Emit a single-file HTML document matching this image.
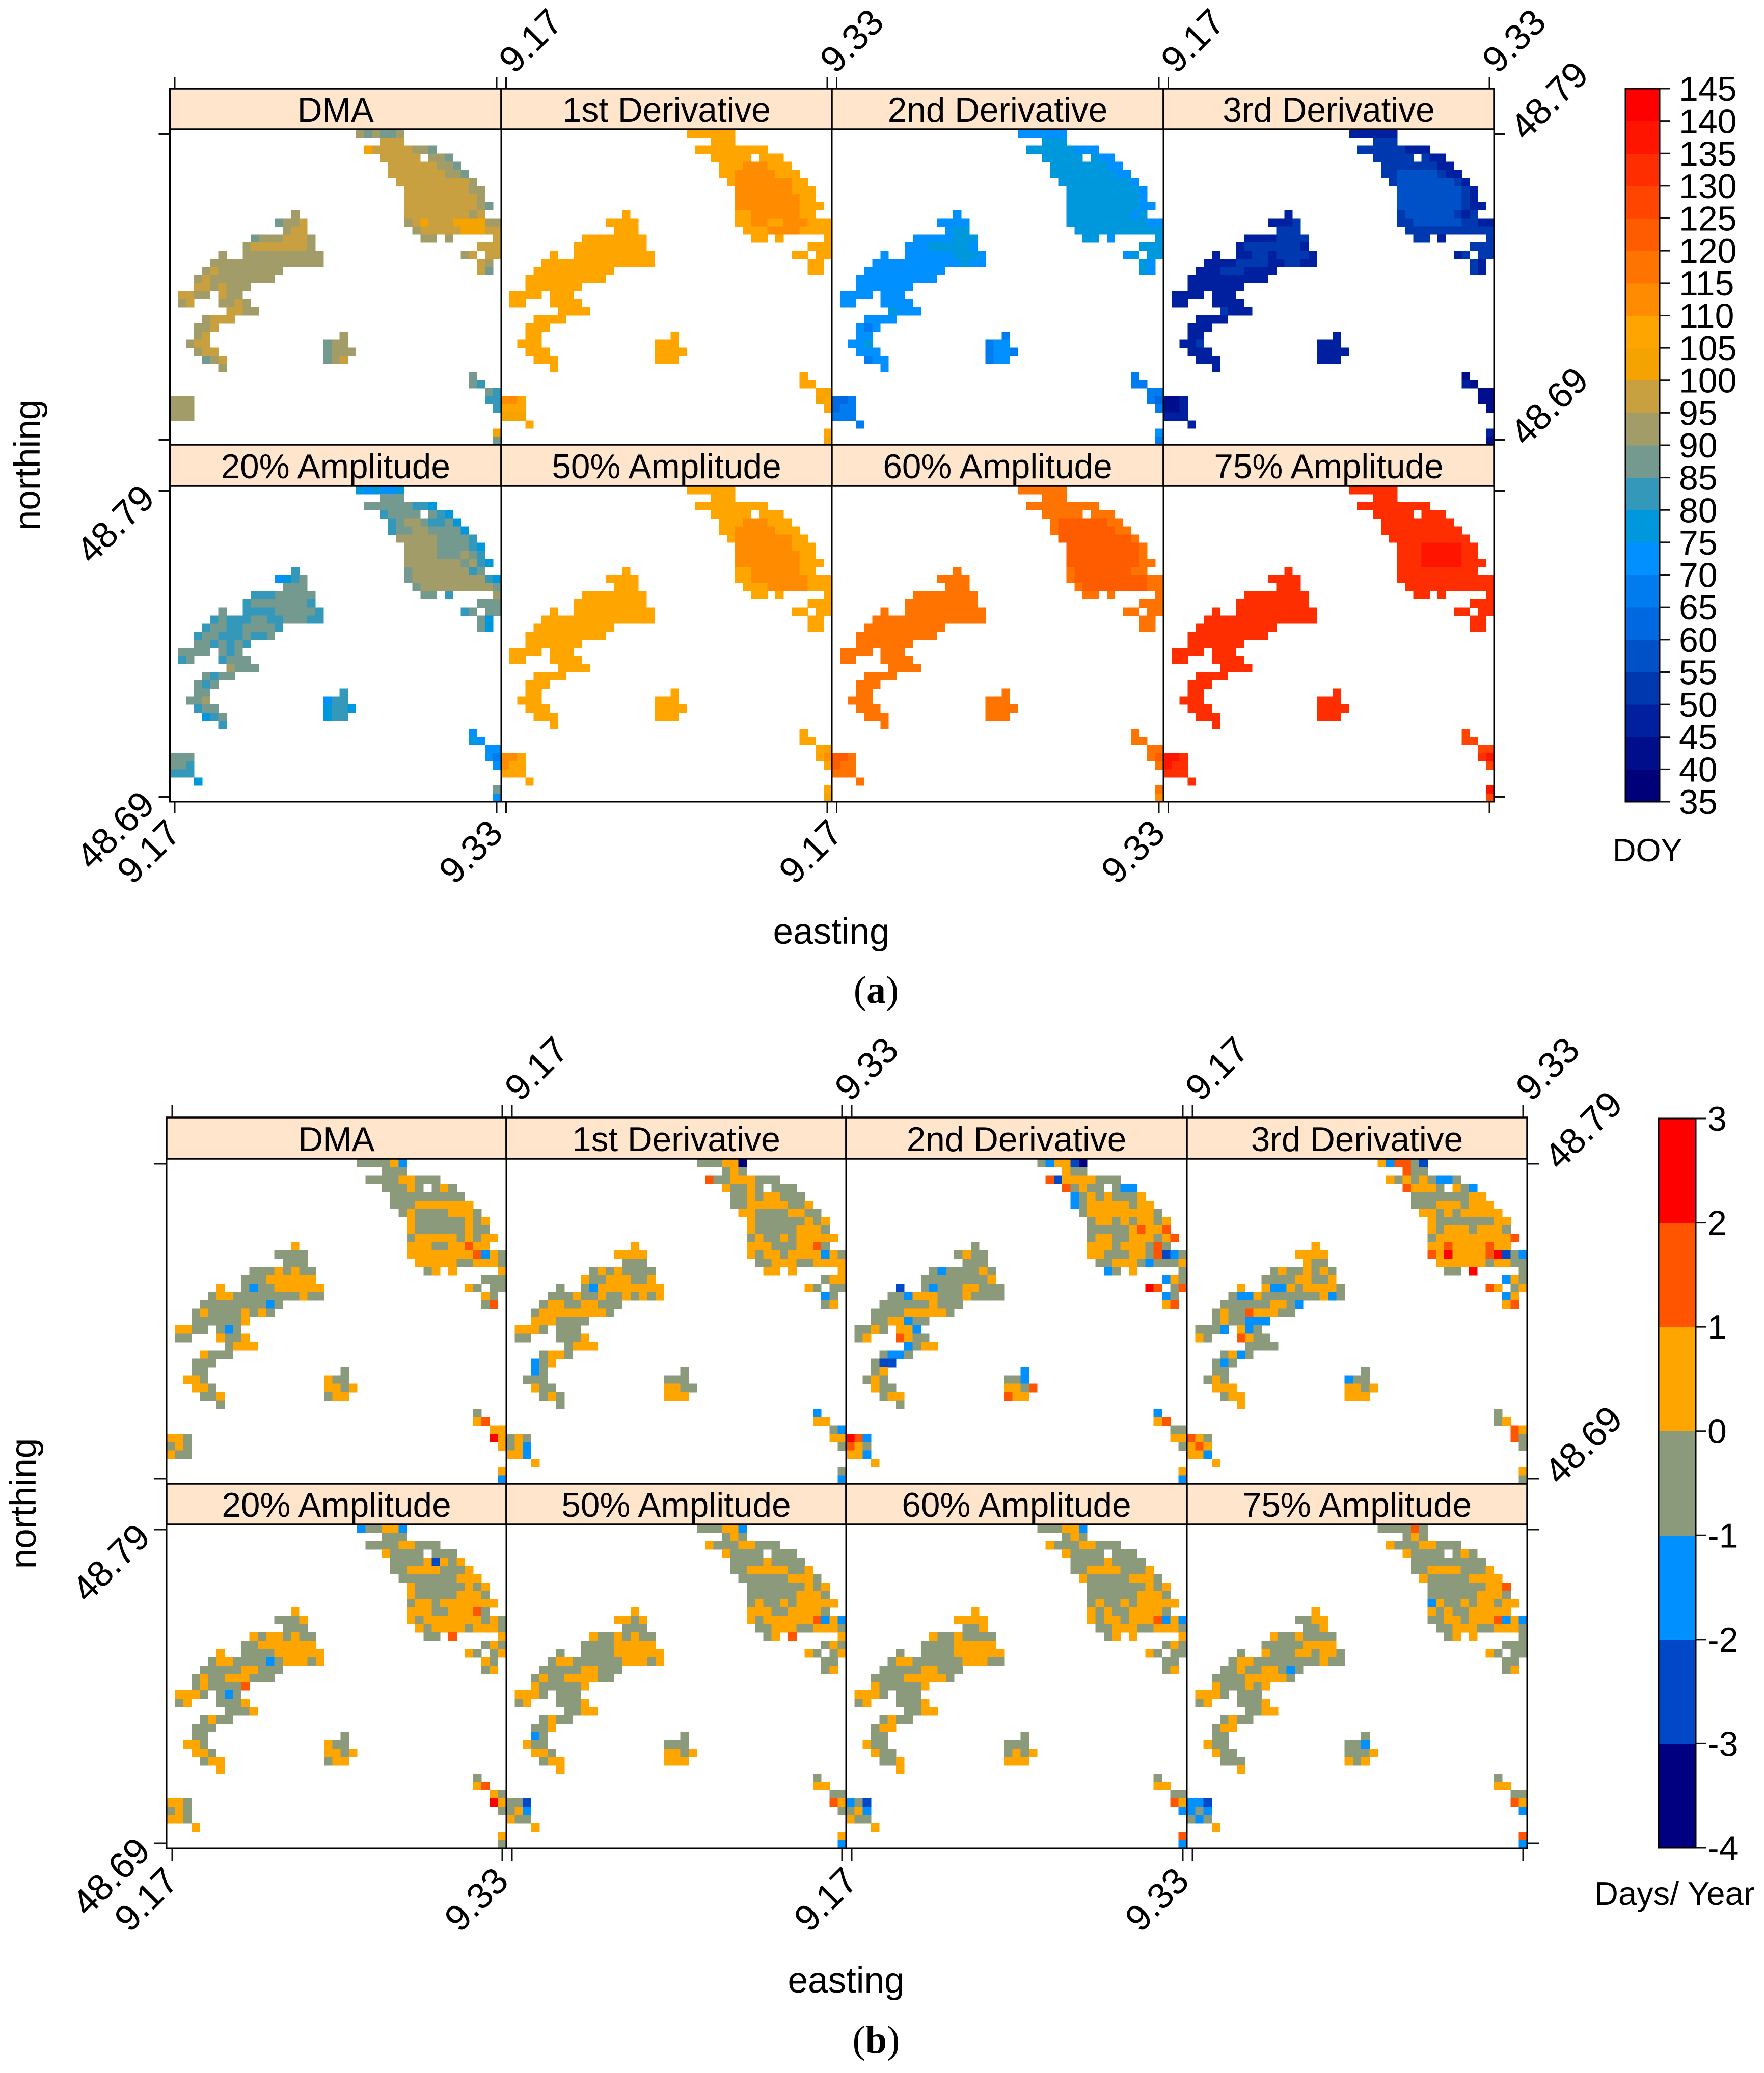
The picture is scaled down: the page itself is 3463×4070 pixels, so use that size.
<!DOCTYPE html>
<html lang="en">
<head>
<meta charset="utf-8">
<title>Phenology metrics maps</title>
<style>
html,body{margin:0;padding:0;background:#fff}
svg{display:block}
text{font-family:"Liberation Sans",sans-serif;fill:#000}
.cap{font-family:"Liberation Serif",serif}
</style>
</head>
<body>
<svg id="chart" xmlns="http://www.w3.org/2000/svg" width="3463" height="4070" viewBox="0 0 3463 4070">
<rect width="3463" height="4070" fill="#fff"/>
<text class="cap" x="1720" y="1969" font-size="76" text-anchor="middle">(<tspan font-weight="bold">a</tspan>)</text>
<text class="cap" x="1720" y="4030" font-size="76" text-anchor="middle">(<tspan font-weight="bold">b</tspan>)</text>
</svg>
<script>
const panelTitles=["DMA","1st Derivative","2nd Derivative","3rd Derivative","20% Amplitude","50% Amplitude","60% Amplitude","75% Amplitude"];
const lonTicks=[9.17,9.33];
const latTicks=[48.79,48.69];
const doyBinColors=["#000078","#000E8C","#0020A0","#0038B0","#0050C8","#0068E0","#007BF0","#0090FF","#0098DC","#3498BB","#749A8F","#A29C68","#C8A040","#F5A300","#FFA500","#FF8C00","#FF7300","#FF5C00","#FF4500","#FF2E00","#FF1400","#FF0000"];
const doyTicks=[35,40,45,50,55,60,65,70,75,80,85,90,95,100,105,110,115,120,125,130,135,140,145];
const dayBinColors=["#000080","#0048C8","#0090FF","#8C9A7C","#FFA500","#FF5500","#FF0000"];
const dayTicks=[-4,-3,-2,-1,0,1,2,3];
/* each entry: [row, firstColumn, value, value, ...] consecutive grid cells; value = lower bound of colour bin */
const doyDma=[[0,23,90,85,90,85,85,90],[1,26,95,95,95],[2,24,100,95,95,95,95,95,90,90,85],[3,26,95,95,95,95,95],[3,32,90,90,85],[4,27,95,95,95,95,95,95,90,90,85],[5,27,95,95,95,95,95,95,95,90,90,85],[6,28,95,95,95,95,95,95,95,95,95,90],[7,29,95,95,95,95,95,95,95,95,90,90],[8,29,95,95,95,95,95,95,95,95,95,90],[9,29,95,95,95,95,95,95,95,95,95,90,85],[10,15,90],[10,29,95,95,95,95,95,95,95,95,90,95],[11,13,85,90,90,95],[11,29,90,95,100,95,95,95,100,100,100,100,90,90],[12,14,90,95,95],[12,30,90,95,95,95,95,95,100,100,100,95,95],[13,10,85,90,90,90,95,95,95,90],[13,31,90,90],[13,34,90],[13,40,95],[14,9,90,95,95,95,95,95,95,95,90],[14,38,95,95,95],[15,6,90],[15,9,90,90,90,90,90,90,90,90,90,90],[15,36,90,95],[15,39,95,95],[16,5,90,90,90,90,90,90,90,90,90,90,90,90,90,90],[16,38,95,90],[17,4,90,95,90,90,90,90,90,90,90,90],[17,38,95,85],[18,3,90,95,90,90,90,90,90,90,90,90],[19,3,95,95,90,95,90,90,90],[20,1,95,95,90,90],[20,6,95,90,90],[21,1,90,95],[21,6,90,90,95,90],[22,7,95,95,90,90],[23,4,90,95,95,95],[24,3,90,90,95],[25,3,90,95],[25,21,90],[26,2,90,95,95],[26,19,85,90,90],[27,3,90,95,95],[27,19,85,90,90,90],[28,4,85,90,95],[28,19,85,90,95],[29,6,90],[30,37,85],[31,37,85,80],[32,39,85,80],[33,0,90,90,90],[33,39,80,80],[34,0,90,90,90],[34,40,80],[35,0,90,90,90],[37,40,100],[38,40,85]];
const doyFirst=[[0,23,105,105,105,105,105,105],[1,26,105,105,105],[2,24,105,105,105,105,105,105,105,105,105],[3,26,105,105,105,105,105],[3,32,105,105,105],[4,27,105,105,105,110,110,110,105,105,105],[5,27,105,105,110,110,110,110,110,105,105,105],[6,28,105,110,110,110,110,110,110,110,105,105],[7,29,110,110,110,110,110,110,110,105,105,105],[8,29,110,110,110,110,110,110,110,110,105,105],[9,29,110,110,110,110,110,110,110,110,105,105,105],[10,15,105],[10,29,105,105,110,110,110,110,110,110,105,105],[11,13,105,105,105,105],[11,29,105,105,110,110,105,105,110,110,110,105,105,105],[12,14,105,105,105],[12,30,105,105,105,110,110,110,110,105,105,105,105],[13,10,105,105,105,105,105,105,105,105],[13,31,105,105],[13,34,105],[13,40,105],[14,9,105,105,105,105,105,105,105,105,105],[14,38,105,105,105],[15,6,105],[15,9,105,105,105,105,105,105,105,105,105,105],[15,36,105,105],[15,39,105,105],[16,5,105,105,105,105,105,105,105,105,105,105,105,105,105,105],[16,38,105,105],[17,4,105,105,105,105,105,105,105,105,105,105],[17,38,105,105],[18,3,105,105,105,105,105,105,105,105,105,105],[19,3,105,105,105,105,105,105,105],[20,1,105,105,105,105],[20,6,105,105,105],[21,1,105,105],[21,6,105,105,105,105],[22,7,105,105,105,105],[23,4,105,105,105,105],[24,3,105,105,105],[25,3,105,105],[25,21,105],[26,2,105,105,105],[26,19,105,105,105],[27,3,105,105,105],[27,19,105,105,105,105],[28,4,105,105,105],[28,19,105,105,105],[29,6,105],[30,37,105],[31,37,105,105],[32,39,105,100],[33,0,110,110,105],[33,39,100,105],[34,0,105,105,105],[34,40,105],[35,0,100,100,100],[36,3,105],[37,40,105],[38,40,100]];
const doySecond=[[0,23,70,70,70,70,70,70],[1,26,75,75,75],[2,24,75,75,75,75,75,75,70,70,70],[3,26,75,75,75,75,75],[3,32,75,70,70],[4,27,75,75,75,75,75,75,75,70,70],[5,27,75,75,75,75,75,75,75,75,70,70],[6,28,75,75,75,75,75,75,75,75,75,70],[7,29,75,75,75,75,75,75,75,75,75,70],[8,29,75,75,75,75,75,75,75,75,75,70],[9,29,75,75,75,75,75,75,75,75,75,70,70],[10,15,70],[10,29,75,75,75,75,75,75,75,75,70,75],[11,13,70,70,70,70],[11,29,75,75,75,75,75,75,75,75,75,75,70,70],[12,14,70,75,75],[12,30,75,75,75,75,75,75,75,75,75,75,75],[13,10,70,70,70,70,70,75,75,75],[13,31,75,75],[13,34,70],[13,40,75],[14,9,70,70,70,75,75,75,75,75,70],[14,38,75,75,75],[15,6,70],[15,9,70,70,70,70,70,70,75,75,75,70],[15,36,70,75],[15,39,75,75],[16,5,70,70,70,70,70,70,70,70,70,70,70,75,70,70],[16,38,75,70],[17,4,70,70,70,70,70,70,70,70,70,70],[17,38,75,70],[18,3,70,70,70,70,70,70,70,70,70,70],[19,3,70,70,70,70,70,70,70],[20,1,70,70,70,70],[20,6,70,70,70],[21,1,70,70],[21,6,70,70,70,70],[22,7,75,70,70,70],[23,4,70,70,70,70],[24,3,70,65,70],[25,3,70,70],[25,21,65],[26,2,70,70,75],[26,19,65,70,70],[27,3,70,70,70],[27,19,65,70,70,65],[28,4,65,70,70],[28,19,65,70,70],[29,6,70],[30,37,65],[31,37,65,65],[32,39,65,65],[33,0,60,60,65],[33,39,65,60],[34,0,60,65,65],[34,40,65],[35,0,65,65,65],[36,3,65],[37,40,70],[38,40,65]];
const doyThird=[[0,23,45,45,45,45,45,45],[1,26,50,50,50],[2,24,50,50,50,50,50,50,45,45,45],[3,26,50,50,50,50,50],[3,32,50,45,45],[4,27,50,50,50,50,50,50,50,45,45],[5,27,50,50,55,55,55,55,55,50,45,45],[6,28,50,55,55,55,55,55,55,55,50,45],[7,29,55,55,55,55,55,55,55,55,50,45],[8,29,55,55,55,55,55,55,55,55,50,45],[9,29,55,55,55,55,55,55,55,55,50,45,45],[10,15,45],[10,29,50,55,55,55,55,55,55,50,45,50],[11,13,45,45,45,50],[11,29,50,50,55,55,55,55,55,55,50,50,45,45],[12,14,50,50,50],[12,30,50,50,50,50,50,50,50,50,50,50,50],[13,10,45,45,45,45,50,50,50,50],[13,31,50,50],[13,34,45],[13,40,50],[14,9,45,50,50,50,50,50,50,50,45],[14,38,50,50,50],[15,6,45],[15,9,45,45,50,50,45,50,50,50,50,45],[15,36,45,50],[15,39,50,50],[16,5,45,45,45,45,50,50,50,50,45,45,50,50,45,45],[16,38,50,45],[17,4,45,45,45,50,50,50,45,45,45,45],[17,38,50,45],[18,3,45,45,45,45,45,45,45,45,45,45],[19,3,45,45,45,45,45,45,45],[20,1,45,45,45,45],[20,6,45,45,45],[21,1,45,45],[21,6,45,45,45,45],[22,7,50,45,45,45],[23,4,45,45,45,45],[24,3,45,45,45],[25,3,45,45],[25,21,45],[26,2,45,45,50],[26,19,45,45,45],[27,3,45,45,45],[27,19,45,45,45,45],[28,4,45,45,45],[28,19,45,45,45],[29,6,45],[30,37,40],[31,37,45,40],[32,39,40,40],[33,0,40,40,45],[33,39,40,40],[34,0,40,40,45],[34,40,40],[35,0,45,45,45],[36,3,45],[37,40,45],[38,40,40]];
const doyTwenty=[[0,23,75,70,75,70,70,75],[1,26,85,85,85],[2,24,85,85,85,85,85,85,80,80,75],[3,26,80,85,85,85,85],[3,32,85,80,75],[4,27,80,85,90,90,85,80,80,85,75],[5,27,80,85,85,90,90,85,85,85,85,75],[6,28,90,90,90,90,90,85,85,85,85,80],[7,29,90,90,90,90,85,85,85,85,80,75],[8,29,90,90,90,90,85,85,85,90,85,80],[9,29,90,90,90,90,90,90,90,85,90,80,75],[10,15,80],[10,29,85,90,90,90,90,90,90,90,80,85],[11,13,70,75,80,85],[11,29,85,90,90,90,90,90,90,90,90,90,80,75],[12,14,85,85,85],[12,30,85,90,90,90,90,90,90,90,90,90,85],[13,10,80,80,80,85,85,85,85,85],[13,31,85,85],[13,34,80],[13,40,90],[14,9,80,85,85,85,85,85,85,85,80],[14,38,85,85,85],[15,6,85],[15,9,80,80,80,80,85,85,85,85,85,80],[15,36,80,85],[15,39,85,85],[16,5,80,85,80,80,80,85,85,80,80,85,85,85,80,80],[16,38,85,75],[17,4,80,85,85,80,80,85,85,85,85,80],[17,38,85,75],[18,3,80,85,85,80,80,80,85,80,80,85],[19,3,85,85,80,85,80,85,80],[20,1,85,85,85,85],[20,6,85,80,85],[21,1,80,85],[21,6,80,85,85,85],[22,7,90,85,85,85],[23,4,85,80,85,85],[24,3,85,80,85],[25,3,85,85],[25,21,80],[26,2,85,85,90],[26,19,70,80,80],[27,3,80,85,85],[27,19,75,80,80,75],[28,4,75,80,85],[28,19,75,80,80],[29,6,80],[30,37,70],[31,37,75,70],[32,39,70,70],[33,0,85,85,85],[33,39,70,65],[34,0,85,85,80],[34,40,70],[35,0,80,80,80],[36,3,75],[37,40,85],[38,40,70]];
const doyFifty=[[0,23,105,105,105,105,105,105],[1,26,105,105,105],[2,24,105,105,105,105,105,105,105,105,105],[3,26,105,105,105,105,105],[3,32,105,105,105],[4,27,105,105,105,110,110,110,105,105,105],[5,27,105,105,110,110,110,110,110,105,105,105],[6,28,105,110,110,110,110,110,110,110,105,105],[7,29,110,110,110,110,110,110,110,105,105,105],[8,29,110,110,110,110,110,110,110,110,105,105],[9,29,110,110,110,110,110,110,110,110,105,105,105],[10,15,105],[10,29,105,105,110,110,110,110,110,110,105,105],[11,13,105,105,105,105],[11,29,105,105,110,110,110,110,110,110,110,105,105,105],[12,14,105,105,105],[12,30,105,105,105,110,110,110,110,110,105,105,105],[13,10,105,105,105,105,105,105,105,105],[13,31,105,105],[13,34,105],[13,40,105],[14,9,105,105,105,105,105,105,105,105,105],[14,38,105,105,105],[15,6,105],[15,9,105,105,105,105,105,105,105,105,105,105],[15,36,105,105],[15,39,105,105],[16,5,105,105,105,105,105,105,105,105,105,105,105,105,105,105],[16,38,105,105],[17,4,105,105,105,105,105,105,105,105,105,105],[17,38,105,105],[18,3,105,105,105,105,105,105,105,105,105,105],[19,3,105,105,105,105,105,105,105],[20,1,105,105,105,105],[20,6,105,105,105],[21,1,105,105],[21,6,105,105,105,105],[22,7,105,105,105,105],[23,4,105,105,105,105],[24,3,105,105,105],[25,3,105,105],[25,21,105],[26,2,105,105,105],[26,19,105,105,105],[27,3,105,105,105],[27,19,105,105,105,105],[28,4,105,105,105],[28,19,105,105,105],[29,6,105],[30,37,105],[31,37,105,105],[32,39,105,100],[33,0,110,110,105],[33,39,105,110],[34,0,110,105,105],[34,40,105],[35,0,105,105,105],[36,3,105],[37,40,105],[38,40,100]];
const doySixty=[[0,23,115,115,115,115,115,115],[1,26,115,115,115],[2,24,115,115,115,115,115,115,115,115,115],[3,26,115,115,115,115,115],[3,32,115,115,115],[4,27,115,120,120,120,120,120,120,115,115],[5,27,115,120,120,120,120,120,120,120,115,115],[6,28,120,120,120,120,120,120,120,120,120,115],[7,29,120,120,120,120,120,120,120,120,120,115],[8,29,120,120,120,120,120,120,120,120,120,115],[9,29,120,120,120,120,120,120,120,120,120,115,115],[10,15,115],[10,29,115,120,120,120,120,120,120,120,115,115],[11,13,115,115,115,115],[11,29,115,120,120,120,120,120,120,120,120,120,115,115],[12,14,115,115,115],[12,30,115,120,120,120,120,120,120,120,120,115,115],[13,10,115,115,115,115,115,115,115,115],[13,31,115,115],[13,34,115],[13,40,115],[14,9,115,115,115,115,115,115,115,115,115],[14,38,115,115,115],[15,6,115],[15,9,115,115,115,115,115,115,115,115,115,115],[15,36,115,115],[15,39,115,115],[16,5,115,115,115,115,115,115,115,115,115,115,115,115,115,115],[16,38,115,115],[17,4,115,115,115,115,115,115,115,115,115,115],[17,38,115,115],[18,3,115,115,115,115,115,115,115,115,115,115],[19,3,115,115,115,115,115,115,115],[20,1,115,115,115,115],[20,6,115,115,115],[21,1,115,115],[21,6,115,115,115,115],[22,7,115,115,115,115],[23,4,115,115,115,115],[24,3,115,115,115],[25,3,115,115],[25,21,115],[26,2,115,115,115],[26,19,115,115,115],[27,3,115,115,115],[27,19,115,115,115,115],[28,4,115,115,115],[28,19,115,115,115],[29,6,115],[30,37,115],[31,37,115,115],[32,39,115,115],[33,0,120,120,115],[33,39,115,120],[34,0,120,115,115],[34,40,115],[35,0,115,115,115],[36,3,115],[37,40,115],[38,40,110]];
const doySeventyFive=[[0,23,130,130,130,130,130,130],[1,26,130,130,130],[2,24,130,130,130,130,130,130,130,130,130],[3,26,130,130,130,130,130],[3,32,130,130,130],[4,27,130,130,130,130,130,130,130,130,130],[5,27,130,130,130,130,130,130,130,130,130,130],[6,28,130,130,130,130,130,130,130,130,130,130],[7,29,130,130,130,135,135,135,135,135,130,130],[8,29,130,130,130,135,135,135,135,135,130,130],[9,29,130,130,130,135,135,135,135,135,130,130,130],[10,15,130],[10,29,130,130,130,130,130,130,130,130,130,130],[11,13,130,130,130,130],[11,29,130,130,130,130,130,130,130,130,130,130,130,130],[12,14,130,130,130],[12,30,130,130,130,130,130,130,130,130,130,130,130],[13,10,130,130,130,130,130,130,130,130],[13,31,130,130],[13,34,130],[13,40,130],[14,9,130,130,130,130,130,130,130,130,130],[14,38,130,130,130],[15,6,130],[15,9,130,130,130,130,130,130,130,130,130,130],[15,36,130,130],[15,39,130,130],[16,5,130,130,130,130,130,130,130,130,130,130,130,130,130,130],[16,38,130,130],[17,4,130,130,130,130,130,130,130,130,130,130],[17,38,130,130],[18,3,130,130,130,130,130,130,130,130,130,130],[19,3,130,130,130,130,130,130,130],[20,1,130,130,130,130],[20,6,130,130,130],[21,1,130,130],[21,6,130,130,130,130],[22,7,130,130,130,130],[23,4,130,130,130,130],[24,3,130,130,130],[25,3,130,130],[25,21,130],[26,2,130,130,130],[26,19,130,130,130],[27,3,130,130,130],[27,19,130,130,130,130],[28,4,130,130,130],[28,19,130,130,130],[29,6,130],[30,37,125],[31,37,125,125],[32,39,125,125],[33,0,135,135,130],[33,39,130,135],[34,0,135,130,130],[34,40,125],[35,0,130,130,130],[36,3,130],[37,40,135],[38,40,125]];
const dayDma=[[0,23,-1,-1,-1,-1,0,-2],[1,26,-1,-1,-1],[2,24,-1,-1,-1,-1,0,0,-1,-1,-1],[3,26,-1,-1,-1,0,-1],[3,32,-1,0,-1],[4,27,-1,-1,-1,-1,-1,-1,-1,-1,-1],[5,27,-1,-1,-1,0,0,0,0,0,0,0],[6,28,-1,0,-1,-1,-1,-1,0,0,0,-1],[7,29,0,-1,-1,-1,-1,-1,-1,0,-1,0],[8,29,0,-1,-1,-1,-1,-1,-1,0,-1,-1],[9,29,-1,0,0,0,0,0,-1,0,-1,0,0],[10,15,0],[10,29,0,0,0,-1,-1,0,0,1,0,0],[11,13,-1,-1,-1,-1],[11,29,0,0,0,0,0,0,0,0,1,-2,0,-1],[12,14,-1,-1,-1],[12,30,0,0,0,0,0,-1,-1,0,0,0,-1],[13,10,-1,-1,-1,0,-1,0,-1,-1],[13,31,-1,0],[13,34,0],[13,40,0],[14,9,-1,-1,-1,0,0,0,0,0,0],[14,38,-1,-1,-1],[15,6,0],[15,9,-1,-2,-1,-1,0,0,0,0,0,0],[15,36,0,-1],[15,39,-1,-1],[16,5,-1,0,0,-1,-1,-1,-1,-1,-1,-1,-1,0,-1,-1],[16,38,0,-1],[17,4,-1,-1,-1,-1,-1,-1,-1,-1,-2,-1],[17,38,-1,1],[18,3,-1,0,-1,-1,-1,-1,0,-1,0,-1],[19,3,-1,-1,-1,-1,-1,-1,0],[20,1,0,0,-1,-1],[20,6,-1,-2,-1],[21,1,-1,-1],[21,6,0,-1,-1,0],[22,7,-1,0,0,0],[23,4,0,-1,-1,-1],[24,3,-1,-1,-1],[25,3,-1,-1],[25,21,-1],[26,2,0,0,-1],[26,19,0,-1,-1],[27,3,0,0,-1],[27,19,0,0,-1,0],[28,4,-1,-1,0],[28,19,-1,0,0],[29,6,-1],[30,37,-1],[31,37,0,1],[32,39,0,0],[33,0,0,0,-1],[33,39,2,0],[34,0,-1,0,-1],[34,40,0],[35,0,0,-1,-1],[37,40,0],[38,40,-2]];
const dayFirst=[[0,23,-1,-1,-1,0,0,-4],[1,26,-1,0,-1],[2,24,1,-1,-1,0,0,0,-1,-1,-1],[3,26,0,-1,-1,0,-1],[3,32,-1,-1,-1],[4,27,-1,-1,0,-1,0,0,-1,-1,-1],[5,27,-1,-1,0,0,0,0,0,-1,-1,0],[6,28,0,0,-1,-1,-1,-1,0,0,-1,-1],[7,29,0,-1,-1,-1,-1,-1,-1,0,-1,0],[8,29,0,-1,-1,-1,-1,-1,0,0,0,-1],[9,29,-1,0,-1,-1,0,-1,0,0,0,0,0],[10,15,0],[10,29,0,0,0,-1,-1,-1,0,0,1,-1],[11,13,0,0,0,0],[11,29,0,-1,0,0,-1,0,0,0,0,-2,0,-1],[12,14,-1,-1,-1],[12,30,-1,-1,0,0,0,-1,-1,0,0,0,0],[13,10,-1,0,-1,0,-1,-1,-1,-1],[13,31,0,0],[13,34,0],[13,40,0],[14,9,0,-1,-1,0,0,0,-1,-1,0],[14,38,-1,0,0],[15,6,-1],[15,9,-1,-2,0,0,0,0,0,0,0,0],[15,36,0,-1],[15,39,-1,-1],[16,5,-1,-1,-1,0,-1,-1,0,-1,-1,0,-1,0,-1,0],[16,38,-2,-1],[17,4,-1,0,0,-1,-1,0,0,-1,-1,-1],[17,38,-1,0],[18,3,-1,0,0,0,0,0,0,0,0,-1],[19,3,0,0,0,-1,-1,-1,-1],[20,1,0,0,0,-1],[20,6,-1,-1,-1],[21,1,-1,-1],[21,6,-1,-1,-1,0],[22,7,-1,0,0,0],[23,4,-1,0,0,-1],[24,3,-2,-1,0],[25,3,-2,-1],[25,21,-1],[26,2,-1,-1,-1],[26,19,-1,-1,-1],[27,3,0,-1,-1],[27,19,0,0,-1,-1],[28,4,-1,0,-1],[28,19,0,0,0],[29,6,-1],[30,37,-2],[31,37,0,0],[32,39,-1,-2],[33,0,-1,0,-1],[33,39,0,0],[34,0,-1,0,-2],[34,40,-1],[35,0,0,0,-2],[36,3,0],[37,40,-1],[38,40,-2]];
const daySecond=[[0,23,-1,-2,0,0,-3,-4],[1,26,0,-1,-1],[2,24,1,-3,0,0,0,0,-1,-1,-1],[3,26,1,-1,0,-1,-1],[3,32,-1,-2,-2],[4,27,-2,-1,0,-1,0,-1,-1,-1,0],[5,27,-2,-1,0,0,0,0,0,-1,0,0],[6,28,-1,0,0,0,0,0,0,0,0,-1],[7,29,-1,0,0,-1,0,-1,0,0,-1,0],[8,29,-1,-1,-1,-1,-1,0,1,0,0,1],[9,29,-1,0,0,-1,-1,0,0,0,-1,0,1],[10,15,-1],[10,29,0,0,0,-1,0,0,0,-1,1,-1],[11,13,-1,0,-1,-1],[11,29,0,0,-1,-1,-1,0,0,-1,1,-3,-2,-1],[12,14,-1,-1,-1],[12,30,-1,-1,0,0,0,-1,-2,-1,-1,-1,0],[13,10,-1,-2,-1,-1,-1,-1,0,-1],[13,31,-2,-1],[13,34,0],[13,40,-1],[14,9,-1,-1,-1,-1,-1,-1,-1,-1,0],[14,38,-2,0,-1],[15,6,-3],[15,9,-1,-2,-1,-1,-1,0,0,-1,-1,-1],[15,36,2,1],[15,39,-1,1],[16,5,-1,-1,-2,0,0,0,-1,-1,-1,0,-1,-1,-1,-1],[16,38,-2,-1],[17,4,-1,-1,-1,-1,-1,-1,0,-1,-1,-1],[17,38,0,1],[18,3,-1,-1,-1,-1,0,0,0,0,0,-1],[19,3,-1,-1,0,0,-2,-1,-1],[20,1,-1,-1,0,-1],[20,6,0,0,-2],[21,1,-1,0],[21,6,1,0,-1,-1],[22,7,-2,-1,0,0],[23,4,-1,-2,-2,-1],[24,3,-1,-3,-3],[25,3,-1,0],[25,21,-2],[26,2,-1,0,-1],[26,19,-1,-1,-2],[27,3,0,-1,-1],[27,19,0,0,-1,1],[28,4,-1,0,0],[28,19,1,0,0],[29,6,-1],[30,37,-2],[31,37,0,1],[32,39,-1,-1],[33,0,2,1,-2],[33,39,0,0],[34,0,1,0,-1],[34,40,-1],[35,0,0,0,-2],[36,3,0],[37,40,0],[38,40,-2]];
const dayThird=[[0,23,0,-2,1,1,-1,-3],[1,26,1,-1,-1],[2,24,0,-1,0,-1,0,-1,-2,-2,-1],[3,26,1,0,0,0,-1],[3,32,0,-1,-2],[4,27,-1,-1,-1,-1,-1,-1,-1,0,0],[5,27,-1,-1,-1,0,0,0,-1,0,0,0],[6,28,0,0,-1,0,-1,0,0,0,0,0],[7,29,0,-1,-1,-1,-1,-1,-1,-1,0,0],[8,29,0,-1,0,0,0,-1,0,0,0,-1],[9,29,-1,0,0,0,0,0,0,0,0,0,1],[10,15,0],[10,29,0,0,1,0,0,0,0,1,0,0],[11,13,0,0,0,0],[11,29,1,0,2,0,0,0,0,1,2,-3,-1,-2],[12,14,0,-1,-1],[12,30,0,0,0,0,0,0,-1,0,0,-1,-1],[13,10,-1,0,-1,-1,0,-1,0,-1],[13,31,-1,-1],[13,34,2],[13,40,-1],[14,9,-1,-1,-1,-1,0,0,-1,-1,0],[14,38,-2,0,-1],[15,6,0],[15,9,0,-2,-2,0,-1,0,0,0,0,-1],[15,36,1,0],[15,39,-1,0],[16,5,-1,-2,-2,0,-1,-1,-1,-1,-1,-1,-1,0,-2,-1],[16,38,-2,0],[17,4,-1,-1,-1,-1,-1,-1,0,0,-1,-2],[17,38,0,1],[18,3,-1,0,-1,-1,1,0,0,0,-1,-1],[19,3,-1,0,-1,-1,-2,-2,-2],[20,1,-1,-1,-1,-2],[20,6,0,-2,-1],[21,1,0,-1],[21,6,1,0,-1,-1],[22,7,-1,-1,-1,-1],[23,4,-1,0,-2,-1],[24,3,-1,-2,-1],[25,3,-1,-1],[25,21,-1],[26,2,-1,0,-1],[26,19,-2,-1,-1],[27,3,0,0,0],[27,19,0,0,-1,0],[28,4,-1,0,0],[28,19,0,0,0],[29,6,0],[30,37,-1],[31,37,-1,0],[32,39,1,0],[33,0,1,0,-1],[33,39,1,-1],[34,0,0,1,0],[34,40,-1],[35,0,0,0,-2],[36,3,0],[37,40,0],[38,40,-1]];
const dayTwenty=[[0,23,-2,-1,-1,0,0,-2],[1,26,-1,-1,-1],[2,24,-1,-1,-1,-1,0,0,-1,-1,-1],[3,26,0,-1,-1,-1,-1],[3,32,-1,-1,-1],[4,27,-1,-1,-1,-1,0,-3,0,-1,0],[5,27,-1,-1,0,0,0,0,-1,-1,-1,0],[6,28,-1,-1,-1,-1,-1,-1,-1,0,0,0],[7,29,0,-1,-1,-1,-1,-1,-1,0,-1,0],[8,29,0,-1,-1,-1,-1,-1,0,0,0,-1],[9,29,-1,0,0,-1,0,0,0,0,0,0,0],[10,15,0],[10,29,0,0,0,-1,-1,0,0,0,1,-1],[11,13,-1,-1,-1,0],[11,29,0,-1,0,0,0,0,0,0,0,-1,0,-1],[12,14,-1,-1,-1],[12,30,0,-1,0,0,0,0,-1,0,0,0,-1],[13,10,0,-1,0,0,-1,0,-1,-1],[13,31,-1,-1],[13,34,1],[13,40,0],[14,9,-1,-1,0,0,0,0,0,0,0],[14,38,-1,0,-1],[15,6,0],[15,9,-1,-1,-1,-1,0,0,0,0,0,0],[15,36,0,-1],[15,39,-1,0],[16,5,-1,0,0,-1,-1,-1,-1,-2,-1,0,0,0,-1,0],[16,38,0,-1],[17,4,-1,-1,-1,-1,-1,0,0,-1,-1,-1],[17,38,-1,0],[18,3,-1,0,-1,-1,0,0,0,-1,-1,-1],[19,3,-1,0,-1,-1,-1,-1,1],[20,1,0,0,0,-1],[20,6,-1,-2,-1],[21,1,-1,0],[21,6,-1,-1,-1,0],[22,7,-1,-1,-1,0],[23,4,-1,0,-1,-1],[24,3,-1,-1,-1],[25,3,-1,-1],[25,21,-1],[26,2,0,0,-1],[26,19,0,-1,-1],[27,3,0,0,-1],[27,19,0,0,-1,0],[28,4,-1,0,0],[28,19,-1,0,0],[29,6,0],[30,37,-1],[31,37,0,1],[32,39,0,-1],[33,0,0,0,-1],[33,39,2,0],[34,0,-1,0,-1],[34,40,-1],[35,0,0,0,-1],[36,3,0],[37,40,0],[38,40,-1]];
const dayFifty=[[0,23,-1,-1,-1,0,0,-2],[1,26,-1,0,-1],[2,24,0,-1,-1,-1,0,0,-1,-1,-1],[3,26,0,-1,-1,-1,-1],[3,32,-1,-1,-1],[4,27,-1,-1,-1,-1,0,-1,-1,-1,-1],[5,27,-1,-1,0,0,0,0,0,-1,-1,0],[6,28,-1,-1,-1,-1,-1,-1,0,0,0,-1],[7,29,-1,-1,-1,-1,-1,-1,-1,0,-1,0],[8,29,-1,-1,-1,-1,-1,-1,0,0,0,-1],[9,29,-1,0,-1,-1,0,-1,0,0,0,0,0],[10,15,0],[10,29,0,0,0,-1,-1,0,0,0,0,-1],[11,13,0,0,-1,0],[11,29,0,-1,0,0,0,0,0,0,1,-2,0,-2],[12,14,-1,-1,-1],[12,30,-1,-1,0,0,0,-1,-1,0,0,0,-1],[13,10,0,-1,-1,0,-1,0,-1,-1],[13,31,-1,0],[13,34,1],[13,40,0],[14,9,-1,-1,-1,-1,0,0,0,0,0],[14,38,-1,0,-1],[15,6,-1],[15,9,-1,-1,-1,-1,0,0,0,0,0,0],[15,36,0,-1],[15,39,-1,0],[16,5,-1,0,0,-1,-1,-1,-1,-1,-1,0,0,0,-1,0],[16,38,-1,-1],[17,4,-1,-1,-1,-1,-1,0,0,-1,-1,-1],[17,38,-1,0],[18,3,-1,0,-1,-1,0,0,0,0,-1,-1],[19,3,0,-1,-1,-1,-1,-1,0],[20,1,0,0,0,-1],[20,6,-1,-1,-1],[21,1,-1,0],[21,6,-1,-1,-1,0],[22,7,-1,-1,0,0],[23,4,-1,0,-1,-1],[24,3,-1,-1,0],[25,3,-2,-1],[25,21,-1],[26,2,0,-1,-1],[26,19,-1,-1,-1],[27,3,0,0,-1],[27,19,0,0,-1,0],[28,4,-1,0,0],[28,19,0,0,0],[29,6,0],[30,37,-1],[31,37,0,0],[32,39,-1,-1],[33,0,-1,-1,-3],[33,39,1,0],[34,0,-1,0,-2],[34,40,-1],[35,0,0,-1,-1],[36,3,0],[37,40,0],[38,40,-2]];
const daySixty=[[0,23,-1,-1,-1,0,0,-2],[1,26,-1,0,-1],[2,24,0,-1,-1,-1,0,0,-1,-1,-1],[3,26,0,-1,-1,-1,-1],[3,32,-1,-1,-1],[4,27,-1,-1,-1,-1,0,-1,-1,-1,-1],[5,27,-1,-1,0,0,0,0,-1,-1,-1,0],[6,28,0,-1,-1,-1,-1,-1,0,0,0,-1],[7,29,-1,-1,-1,-1,-1,-1,-1,0,-1,0],[8,29,-1,-1,-1,-1,-1,-1,0,0,0,-1],[9,29,-1,0,-1,-1,0,-1,0,0,0,0,0],[10,15,0],[10,29,0,-1,0,-1,-1,0,0,0,0,-1],[11,13,0,0,0,0],[11,29,0,-1,0,0,-1,0,0,0,1,-2,0,-2],[12,14,-1,-1,0],[12,30,-1,-1,0,0,0,-1,-1,0,0,0,-1],[13,10,0,-1,-1,0,-1,-1,-1,-1],[13,31,-1,0],[13,34,0],[13,40,0],[14,9,-1,-1,-1,-1,0,0,0,0,0],[14,38,-1,0,-1],[15,6,-1],[15,9,-1,-1,-1,-1,0,0,0,0,0,0],[15,36,0,-1],[15,39,-1,-1],[16,5,-1,0,0,-1,-1,-1,-1,-1,-1,0,0,0,-1,-1],[16,38,-1,-1],[17,4,-1,-1,-1,-1,-1,0,0,-1,-1,-1],[17,38,-1,0],[18,3,-1,-1,-1,-1,0,0,0,0,0,-1],[19,3,0,-1,-1,-1,-1,-1,0],[20,1,0,0,0,-1],[20,6,-1,-1,-1],[21,1,-1,0],[21,6,-1,-1,-1,0],[22,7,-1,-1,0,0],[23,4,-1,0,-1,-1],[24,3,-1,0,0],[25,3,-1,-1],[25,21,-1],[26,2,0,-1,-1],[26,19,-1,-1,-1],[27,3,0,-1,-1],[27,19,-1,0,-1,0],[28,4,-1,-1,0],[28,19,0,0,0],[29,6,0],[30,37,-1],[31,37,0,0],[32,39,-1,-1],[33,0,-2,-1,-3],[33,39,1,0],[34,0,-1,0,-2],[34,40,-2],[35,0,0,-1,-1],[36,3,0],[37,40,1],[38,40,-2]];
const daySeventyFive=[[0,23,-1,-1,-1,-1,1,-1],[1,26,-1,0,-1],[2,24,0,-1,-1,-1,0,0,-1,-1,-1],[3,26,0,-1,-1,-1,-1],[3,32,-1,0,-1],[4,27,-1,-1,-1,-1,-1,-1,-1,-1,-1],[5,27,-1,-1,0,0,0,0,-1,-1,-1,0],[6,28,0,-1,-1,-1,-1,-1,0,0,0,0],[7,29,-1,-1,-1,-1,-1,-1,-1,0,0,1],[8,29,-1,-1,-1,-1,-1,-1,0,0,0,-1],[9,29,-2,0,-1,-1,0,-1,0,0,-1,0,0],[10,15,0],[10,29,0,-1,0,-1,-1,0,0,0,0,0],[11,13,-1,-1,0,0],[11,29,-1,-1,0,0,-1,0,0,0,1,-2,0,-2],[12,14,-1,-1,0],[12,30,-1,-1,0,0,0,-1,-1,0,0,0,-1],[13,10,0,-1,-1,0,-1,-1,-1,-1],[13,31,-1,0],[13,34,0],[13,40,-1],[14,9,-1,-1,-1,-1,-1,0,0,0,0],[14,38,-1,-1,-1],[15,6,-1],[15,9,0,-1,-1,-1,0,0,-1,0,0,-1],[15,36,0,-1],[15,39,-1,-1],[16,5,-1,0,0,-1,-1,-1,-1,-1,-1,-1,-1,0,-1,-1],[16,38,-1,-1],[17,4,-1,-1,0,-1,-1,0,0,-1,-2,-1],[17,38,-1,0],[18,3,-1,-1,-1,-1,0,0,0,0,0,-1],[19,3,0,-1,-1,-1,0,-1,0],[20,1,0,0,0,-1],[20,6,-1,-1,-1],[21,1,-1,0],[21,6,-1,-1,-1,0],[22,7,-1,-1,0,0],[23,4,-1,0,-1,-1],[24,3,-1,0,0],[25,3,-1,-1],[25,21,-1],[26,2,0,-1,-1],[26,19,-1,-1,-2],[27,3,0,-1,-1],[27,19,-1,-1,-1,0],[28,4,-1,-1,-1],[28,19,0,-1,0],[29,6,0],[30,37,-1],[31,37,0,0],[32,39,-1,-1],[33,0,-2,-2,-3],[33,39,1,0],[34,0,-2,-1,-2],[34,40,-2],[35,0,-1,-2,-1],[36,3,0],[37,40,1],[38,40,-2]];

const doyPanels=[doyDma,doyFirst,doySecond,doyThird,doyTwenty,doyFifty,doySixty,doySeventyFive];
const dayPanels=[dayDma,dayFirst,daySecond,dayThird,dayTwenty,dayFifty,daySixty,daySeventyFive];

const GRID_COLS=41, GRID_ROWS=39;
const svg=document.getElementById('chart');
const NS='http://www.w3.org/2000/svg';
function mk(tag,attrs,parent,text){
  const el=document.createElementNS(NS,tag);
  for(const k in attrs){el.setAttribute(k,attrs[k]);}
  if(text!==undefined){el.textContent=text;}
  (parent||svg).appendChild(el);
  return el;
}
function colorFor(v,fig){
  const i=Math.floor((v-fig.min)/fig.step);
  return fig.colors[Math.max(0,Math.min(fig.colors.length-1,i))];
}
function tickLine(g,x1,y1,x2,y2,name){
  const el=mk('line',{x1:x1,y1:y1,x2:x2,y2:y2,stroke:'#111','stroke-width':3},g);
  
  
}
function rotLabel(g,x,y,anchor,str,name){
  const el=mk('text',{x:x,y:y,'font-size':72,'text-anchor':anchor,transform:'rotate(-45 '+x+' '+y+')'},g,str);
  
  
}
function drawFigure(fig){
  const root=mk('g',{});
  
  
  function lonX(col,v){
    const left=fig.x[col], right=fig.x[col+1];
    return left+fig.padX[0]+(v-lonTicks[0])/(lonTicks[1]-lonTicks[0])*((right-fig.padX[1])-(left+fig.padX[0]));
  }
  function latY(r,v){
    const t=fig.rows[r].top, b=fig.rows[r].bottom;
    return (t+fig.padY[0])+(latTicks[0]-v)/(latTicks[0]-latTicks[1])*((b-fig.padY[1])-(t+fig.padY[0]));
  }
  fig.data.forEach(function(cells,idx){
    const col=idx%4, r=idx<4?0:1;
    const left=fig.x[col], right=fig.x[col+1];
    const top=fig.rows[r].top, bottom=fig.rows[r].bottom, strip=fig.rows[r].strip;
    const cw=(right-left)/GRID_COLS, ch=(bottom-top)/GRID_ROWS;
    const g=mk('g',{},root);
    
    
    const bg=mk('rect',{x:left,y:top,width:right-left,height:bottom-top,fill:'#fff'},g);
    
    
    cells.forEach(function(seg){
      for(let k=2;k<seg.length;k++){
        const c=mk('rect',{x:left+(seg[1]+k-2)*cw,y:top+seg[0]*ch,width:cw+0.4,height:ch+0.4,fill:colorFor(seg[k],fig),'shape-rendering':'crispEdges'},g);
        
        
      }
    });
    const st=mk('rect',{x:left,y:strip,width:right-left,height:top-strip,fill:'#FFE5CC',stroke:'#000','stroke-width':3.5},g);
    
    
    const tt=mk('text',{x:(left+right)/2,y:top-15,'font-size':67.5,'text-anchor':'middle'},g,panelTitles[idx]);
    
    
    const bd=mk('rect',{x:left,y:top,width:right-left,height:bottom-top,fill:'none',stroke:'#000','stroke-width':3},g);
    
    
  });
  const ax=mk('g',{},root);
  
  
  const len=fig.tick, yTop=fig.rows[0].strip, yBot=fig.rows[1].bottom;
  const xL=fig.x[0], xR=fig.x[4];
  for(let col=0;col<4;col++){
    lonTicks.forEach(function(v){
      const x=lonX(col,v);
      tickLine(ax,x,yTop,x,yTop-len,'x-tick-top');
      tickLine(ax,x,yBot,x,yBot+len,'x-tick-bottom');
      if(col%2===1){rotLabel(ax,x+16,yTop-len-5,'start',v.toFixed(2),'x-tick-label-top');}
      else{rotLabel(ax,x+16,yBot+len+44,'end',v.toFixed(2),'x-tick-label-bottom');}
    });
  }
  for(let r=0;r<2;r++){
    latTicks.forEach(function(v){
      const y=latY(r,v);
      tickLine(ax,xL,y,xL-len,y,'y-tick-left');
      tickLine(ax,xR,y,xR+len,y,'y-tick-right');
      if(r===1){rotLabel(ax,xL-len-4,y+19,'end',v.toFixed(2),'y-tick-label-left');}
      else{rotLabel(ax,xR+len+40,y+15,'start',v.toFixed(2),'y-tick-label-right');}
    });
  }
  const et=mk('text',{x:fig.eastingX,y:fig.eastingY,'font-size':71,'text-anchor':'middle'},root,'easting');
  
  
  const nt=mk('text',{x:fig.northX,y:fig.northY,'font-size':71,'text-anchor':'middle',transform:'rotate(-90 '+fig.northX+' '+fig.northY+')'},root,'northing');
  
  
  /* colour key */
  const key=mk('g',{},root);
  
  
  const n=fig.colors.length, lh=(fig.key.bottom-fig.key.top)/n;
  fig.colors.forEach(function(col,i){
    const rc=mk('rect',{x:fig.key.left,y:fig.key.bottom-(i+1)*lh,width:fig.key.right-fig.key.left,height:lh+0.5,fill:col,'shape-rendering':'crispEdges'},key);
    
    
  });
  const kb=mk('rect',{x:fig.key.left,y:fig.key.top,width:fig.key.right-fig.key.left,height:fig.key.bottom-fig.key.top,fill:'none',stroke:'#000','stroke-width':3},key);
  
  
  fig.ticks.forEach(function(v){
    const y=fig.key.bottom-(v-fig.min)/fig.step*lh;
    tickLine(key,fig.key.right,y,fig.key.right+20,y,'colorbar-tick');
    const lb=mk('text',{x:fig.key.label,y:y+24,'font-size':68},key,String(v));
    
    
  });
  const kt=mk('text',{x:fig.key.titleX,y:fig.key.titleY,'font-size':fig.key.titleSize},key,fig.key.title);
  
  
}
drawFigure({
  name:'figure-a-doy',data:doyPanels,colors:doyBinColors,ticks:doyTicks,min:35,step:5,
  x:[333.5,984,1633,2284,2933],
  rows:[{strip:174,top:254,bottom:873},{strip:873,top:954,bottom:1574}],
  padX:[9.5,9],padY:[9.5,9.5],tick:22,
  eastingX:1632,eastingY:1853,northX:78,northY:913,
  key:{left:3191,right:3258,top:174,bottom:1574,label:3296,title:'DOY',titleX:3166,titleY:1691,titleSize:63}
});
drawFigure({
  name:'figure-b-trend',data:dayPanels,colors:dayBinColors,ticks:dayTicks,min:-4,step:1,
  x:[327,994,1661,2330,2998],
  rows:[{strip:2194,top:2275,bottom:2913},{strip:2913,top:2993,bottom:3629}],
  padX:[11,8],padY:[10,10],tick:24,
  eastingX:1661,eastingY:3912,northX:70,northY:2952,
  key:{left:3256,right:3329,top:2196,bottom:3628,label:3352,title:'Days/ Year',titleX:3130,titleY:3740,titleSize:65}
});
</script>
</body>
</html>
